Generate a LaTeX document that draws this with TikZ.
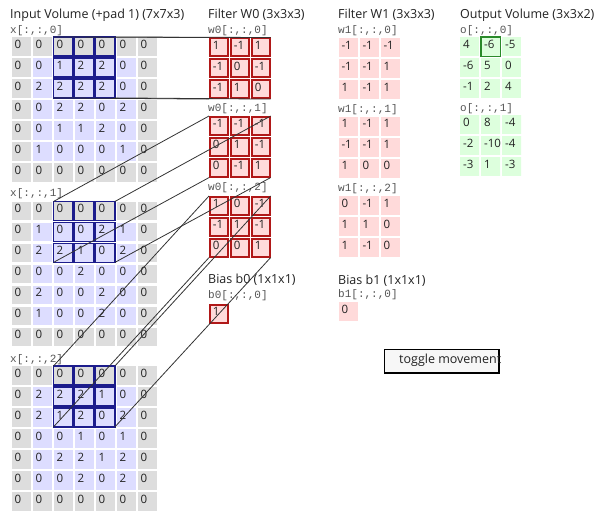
\documentclass[tikz,border=0pt]{standalone}
\usepackage{fontspec}
\setmainfont{Open Sans}
\setmonofont{Liberation Mono}
\definecolor{padgray}{HTML}{DDDDDD}
\definecolor{inblue}{HTML}{DDDDFF}
\definecolor{hlblue}{HTML}{1C1C8C}
\definecolor{wpink}{HTML}{FFDADA}
\definecolor{wred}{HTML}{B01818}
\definecolor{ogreen}{HTML}{DDFFDD}
\definecolor{ohl}{HTML}{2A8A2A}
\definecolor{txt}{HTML}{222222}
\definecolor{lbl}{HTML}{555555}
\tikzset{
  cellbase/.style={rectangle, anchor=north west, inner xsep=3pt, inner ysep=0pt,
    minimum width=19pt, minimum height=18.5pt, text width=13pt, align=left,
    text height=9pt, text depth=5.5pt, font=\fontsize{11.5}{12}\selectfont, text=txt},
  incell/.style={cellbase},
  hlbox/.style={draw=hlblue, line width=1.6pt},
  wcell/.style={cellbase, fill=wpink, draw=wred, line width=1.6pt,
    minimum width=18pt, minimum height=18pt, text width=12pt, inner xsep=2.2pt},
  wonecell/.style={cellbase, fill=wpink, minimum width=19.5pt, minimum height=19pt, text width=13.5pt},
  ocell/.style={cellbase, fill=ogreen, minimum height=19pt},
  ocellwide/.style={ocell, text width=24pt},
  ohlbox/.style={draw=ohl, line width=1.6pt},
  title/.style={anchor=west, inner sep=0pt, font=\fontsize{12.5}{14}\selectfont, text=txt},
  slabel/.style={anchor=west, inner sep=0pt, font=\ttfamily\fontsize{11}{12}\selectfont, text=lbl},
  conn/.style={draw=black!80, line width=0.8pt},
  btnbox/.style={rectangle, anchor=north west, draw=black, line width=1.5pt, fill=black!3,
    minimum width=114.5pt, minimum height=23.5pt, inner sep=0pt},
  btntext/.style={anchor=west, inner sep=0pt, font=\fontsize{12.5}{14}\selectfont, text=txt}
}
% #1 name, #2 x0, #3 top, #4 style, #5 rows
\newcommand\gridslice[5]{%
  \foreach \row [count=\r from 0] in {#5} {%
    \foreach \v [count=\c from 0] in \row {%
      \node[#4] (#1-\r-\c) at ({#2+21*\c},{#3+21*\r}) {\v};
    }%
  }%
}
% input slice with padding colours
\newcommand\inputslice[3]{%
  \foreach \row [count=\r from 0] in {#3} {%
    \foreach \v [count=\c from 0] in \row {%
      \pgfmathtruncatemacro\pad{(\r==0)||(\r==6)||(\c==0)||(\c==6)}%
      \ifnum\pad=1 \def\fillc{padgray}\else\def\fillc{inblue}\fi
      \node[incell, fill=\fillc] (in#1-\r-\c) at ({11.5+21*\c},{#2+21*\r}) {\v};
    }%
  }%
}
\begin{document}
\begin{tikzpicture}[x=1pt, y=-1pt]
\useasboundingbox (0,0) rectangle (600,521);
\fill[white] (0,0) rectangle (600,521);

% titles
\node[title] (tin) at (10,15) {Input Volume (+pad 1) (7x7x3)};
\node[title] (tw0) at (208,15) {Filter W0 (3x3x3)};
\node[title] (tw1) at (338,14.5) {Filter W1 (3x3x3)};
\node[title] (tout) at (460,15) {Output Volume (3x3x2)};
\node[title] (tb0) at (208,280) {Bias b0 (1x1x1)};
\node[title] (tb1) at (338,281) {Bias b1 (1x1x1)};

% slice labels
\node[slabel] (lx0) at (10,30.5) {x[:,:,0]};
\node[slabel] (lx1) at (10,194) {x[:,:,1]};
\node[slabel] (lx2) at (10,359.5) {x[:,:,2]};
\node[slabel] (lw00) at (208,31) {w0[:,:,0]};
\node[slabel] (lw01) at (208,108.5) {w0[:,:,1]};
\node[slabel] (lw02) at (208,187.5) {w0[:,:,2]};
\node[slabel] (lw10) at (338,31) {w1[:,:,0]};
\node[slabel] (lw11) at (338,110) {w1[:,:,1]};
\node[slabel] (lw12) at (338,189) {w1[:,:,2]};
\node[slabel] (lo0) at (460,30.7) {o[:,:,0]};
\node[slabel] (lo1) at (460,108.3) {o[:,:,1]};
\node[slabel] (lb0) at (208,296) {b0[:,:,0]};
\node[slabel] (lb1) at (338,295) {b1[:,:,0]};

% input volume
\inputslice{0}{37}{{0,0,0,0,0,0,0},{0,0,1,2,2,0,0},{0,2,2,2,2,0,0},{0,0,2,2,0,2,0},{0,0,1,1,2,0,0},{0,1,0,0,0,1,0},{0,0,0,0,0,0,0}}
\inputslice{1}{201.5}{{0,0,0,0,0,0,0},{0,1,0,0,2,1,0},{0,2,2,1,0,2,0},{0,0,0,2,0,0,0},{0,2,0,0,2,0,0},{0,1,0,0,2,0,0},{0,0,0,0,0,0,0}}
\inputslice{2}{366}{{0,0,0,0,0,0,0},{0,2,2,2,1,0,0},{0,2,1,2,0,2,0},{0,0,0,1,0,1,0},{0,0,2,2,1,2,0},{0,0,0,2,0,2,0},{0,0,0,0,0,0,0}}

% filter W0
\gridslice{wa0}{209}{37.5}{wcell}{{1,-1,1},{-1,0,-1},{-1,1,0}}
\gridslice{wa1}{209}{116}{wcell}{{-1,-1,-1},{0,1,-1},{0,-1,1}}
\gridslice{wa2}{209}{196}{wcell}{{1,0,-1},{-1,1,-1},{0,0,1}}
\node[wcell] (ba) at (209,304) {1};

% filter W1
\gridslice{wb0}{338.3}{38}{wonecell}{{-1,-1,-1},{-1,-1,1},{1,-1,1}}
\gridslice{wb1}{338.3}{116.5}{wonecell}{{1,-1,1},{-1,-1,1},{1,0,0}}
\gridslice{wb2}{338.3}{196}{wonecell}{{0,-1,1},{1,1,0},{1,-1,0}}
\node[wonecell] (bb) at (338.3,302) {0};

% output volume
\gridslice{oa}{460}{37.3}{ocell}{{4,-6,-5},{-6,5,0},{-1,2,4}}
\foreach \row [count=\r from 0] in {{0,8,-4},{-2,-10,-4},{-3,1,-3}} {%
  \foreach \v [count=\c from 0] in \row {%
    \begin{scope}
      \clip ({460+21*\c},{115.3+21*\r}) rectangle ++(19,19);
      \node[ocellwide] (ob-\r-\c) at ({460+21*\c},{115.3+21*\r}) {\v};
    \end{scope}
  }%
}
\draw[ohlbox] (oa-0-1.north west) rectangle (oa-0-1.south east);

% highlighted receptive field
\foreach \s in {0,1,2} {
  \foreach \r in {0,1,2} {
    \foreach \c in {2,3,4} {
      \draw[hlbox] (in\s-\r-\c.north west) rectangle (in\s-\r-\c.south east);
    }
  }
}

% connectors
\foreach \s in {0,1,2} {
  \draw[conn] (in\s-0-2.north west) -- (wa\s-0-0.north west);
  \draw[conn] (in\s-0-4.north east) -- (wa\s-0-2.north east);
  \draw[conn] (in\s-2-2.south west) -- (wa\s-2-0.south west);
  \draw[conn] (in\s-2-4.south east) -- (wa\s-2-2.south east);
}

% button
\node[btnbox] (toggle) at (383.5,349) {};
\node[btntext] (togglelbl) at (399,360.7) {toggle movement};
\end{tikzpicture}
\end{document}
